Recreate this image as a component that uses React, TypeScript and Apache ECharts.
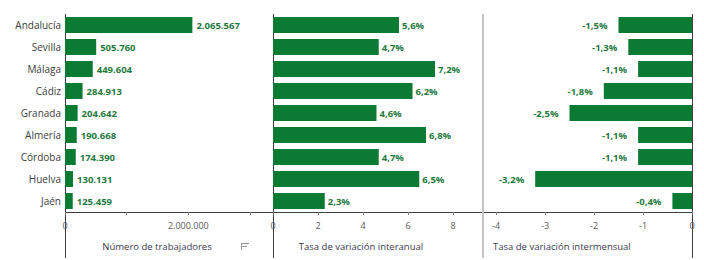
import React, { useEffect, useRef } from "react";
import * as echarts from "echarts";

const provincias = ["Andalucía", "Sevilla", "Málaga", "Cádiz", "Granada", "Almería", "Córdoba", "Huelva", "Jaén"];
const trabajadores = [2065567, 505760, 449604, 284913, 204642, 190668, 174390, 130131, 125459];
const interanual = [5.6, 4.7, 7.2, 6.2, 4.6, 6.8, 4.7, 6.5, 2.3];
const intermensual = [-1.5, -1.3, -1.1, -1.8, -2.5, -1.1, -1.1, -3.2, -0.4];
const axisNames = ["Número de trabajadores", "Tasa de variación interanual", "Tasa de variación intermensual"];

const GREEN = "#0b7a33";
const LABEL_GREEN = "#1f7a3e";
const FONT = "Open Sans";

const fmtThousands = (v: number) => String(Math.round(v)).replace(/\B(?=(\d{3})+(?!\d))/g, ".");
const fmtPct = (v: number) => v.toFixed(1).replace(".", ",") + "%";

export default function App() {
  const ref = useRef<HTMLDivElement>(null);
  useEffect(() => {
    if (!ref.current) return;
    const chart = echarts.init(ref.current, null, { renderer: "svg" });
    const top = 14;
    const h = 198;
    const grids = [
      { left: 65, top, width: 185, height: h },
      { left: 273, top, width: 180, height: h },
      { left: 496, top, width: 196, height: h },
    ];
    const axisLabelBase = { color: "#595959", fontSize: 9, fontFamily: FONT, margin: 9 };
    const xAxisBase = {
      type: "value" as const,
      axisLine: { show: false },
      axisTick: { show: true, length: 3, lineStyle: { color: "#7f7f7f" } },
      splitLine: { show: false },
    };
    const yBase = {
      type: "category" as const,
      data: provincias,
      inverse: true,
      axisLine: { show: false },
      axisTick: { show: false },
    };
    const lineStyle = (c: string, w = 1) => ({ stroke: c, lineWidth: w });
    chart.setOption({
      animation: false,
      grid: grids,
      xAxis: [
        {
          ...xAxisBase,
          gridIndex: 0,
          min: 0,
          max: 3000000,
          interval: 1000000,
          axisLabel: {
            ...axisLabelBase,
            formatter: (v: number) => (v === 0 ? "0" : v === 2000000 ? fmtThousands(v) : ""),
          },
        },
        {
          ...xAxisBase,
          gridIndex: 1,
          min: 0,
          max: 8,
          interval: 2,
          axisLabel: { ...axisLabelBase },
        },
        {
          ...xAxisBase,
          gridIndex: 2,
          min: -4,
          max: 0,
          interval: 1,
          axisLabel: { ...axisLabelBase },
        },
      ],
      yAxis: [
        {
          ...yBase,
          gridIndex: 0,
          axisLabel: { color: "#404040", fontSize: 10, fontFamily: FONT, margin: 4 },
        },
        { ...yBase, gridIndex: 1, axisLabel: { show: false } },
        { ...yBase, gridIndex: 2, axisLabel: { show: false } },
      ],
      series: [
        {
          type: "bar",
          xAxisIndex: 0,
          yAxisIndex: 0,
          data: trabajadores,
          barWidth: 16,
          itemStyle: { color: GREEN },
          label: {
            show: true,
            position: "right",
            distance: 4,
            color: LABEL_GREEN,
            fontWeight: "bold",
            fontSize: 9.5,
            fontFamily: FONT,
            formatter: (p: any) => fmtThousands(p.value),
          },
        },
        {
          type: "bar",
          xAxisIndex: 1,
          yAxisIndex: 1,
          data: interanual,
          barWidth: 16,
          itemStyle: { color: GREEN },
          label: {
            show: true,
            position: "right",
            distance: 3,
            color: LABEL_GREEN,
            fontWeight: "bold",
            fontSize: 9.5,
            fontFamily: FONT,
            formatter: (p: any) => fmtPct(p.value),
          },
        },
        {
          type: "bar",
          xAxisIndex: 2,
          yAxisIndex: 2,
          data: intermensual,
          barWidth: 16,
          itemStyle: { color: GREEN },
          label: {
            show: true,
            position: "left",
            distance: 11,
            color: LABEL_GREEN,
            fontWeight: "bold",
            fontSize: 9.5,
            fontFamily: FONT,
            formatter: (p: any) => fmtPct(p.value),
          },
        },
      ],
      graphic: [
        { type: "line", shape: { x1: 65, y1: 212.5, x2: 693, y2: 212.5 }, style: lineStyle("#404040") },
        { type: "line", shape: { x1: 65.5, y1: 14, x2: 65.5, y2: 258 }, style: lineStyle("#404040") },
        { type: "line", shape: { x1: 273.5, y1: 14, x2: 273.5, y2: 258 }, style: lineStyle("#404040") },
        { type: "line", shape: { x1: 483, y1: 14, x2: 483, y2: 258 }, style: lineStyle("#c4c4c4", 2) },
        { type: "line", shape: { x1: 692.5, y1: 14, x2: 692.5, y2: 258 }, style: lineStyle("#404040") },
        {
          type: "text",
          x: 157,
          y: 246,
          style: { text: axisNames[0], fill: "#3c3a52", font: `9.5px "${FONT}"`, textAlign: "center", textVerticalAlign: "middle" },
        },
        {
          type: "text",
          x: 361,
          y: 246,
          style: { text: axisNames[1], fill: "#3c3a52", font: `9.5px "${FONT}"`, textAlign: "center", textVerticalAlign: "middle" },
        },
        {
          type: "text",
          x: 493,
          y: 246,
          style: { text: axisNames[2], fill: "#3c3a52", font: `9.5px "${FONT}"`, textAlign: "left", textVerticalAlign: "middle" },
        },
        { type: "line", shape: { x1: 241, y1: 243.5, x2: 249, y2: 243.5 }, style: lineStyle("#9a9a9a") },
        { type: "line", shape: { x1: 241, y1: 246.5, x2: 247, y2: 246.5 }, style: lineStyle("#9a9a9a") },
        { type: "line", shape: { x1: 241.5, y1: 243, x2: 241.5, y2: 250 }, style: lineStyle("#9a9a9a") },
      ],
    });
    return () => chart.dispose();
  }, []);
  return <div ref={ref} style={{ width: 704, height: 260, position: "absolute", left: 0, top: 0 }} />;
}
